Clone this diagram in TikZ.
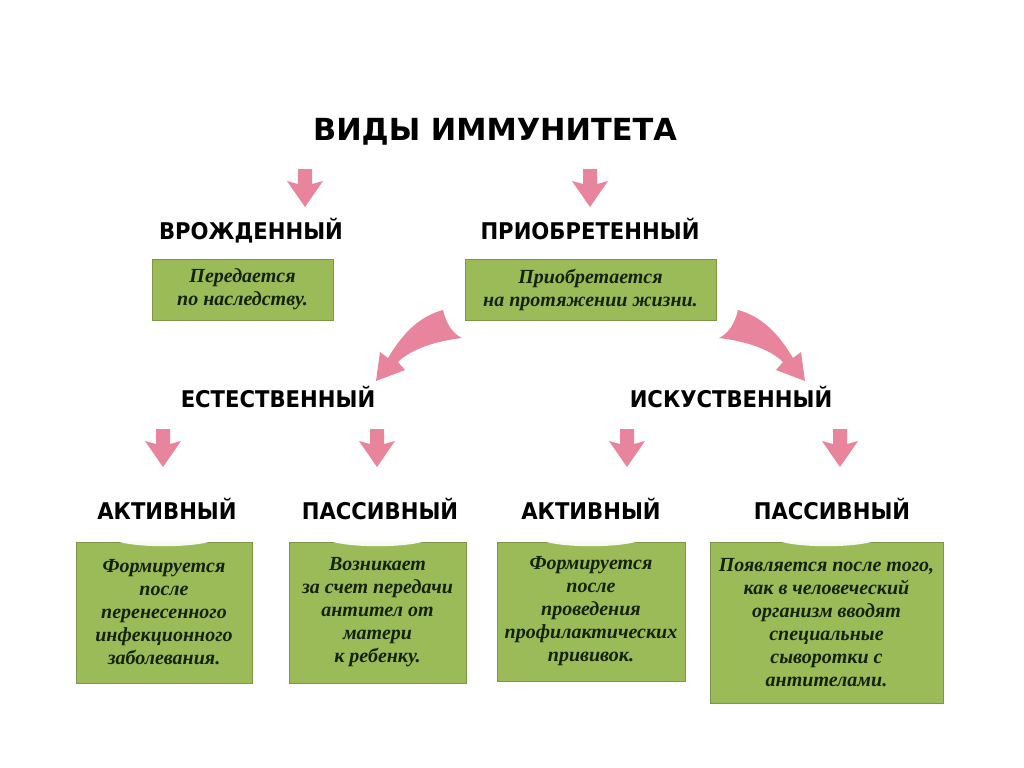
\documentclass[tikz,border=0pt]{standalone}
\usepackage{fontspec}
\setmainfont{Liberation Serif}
\newfontfamily\headfont{DejaVu Sans}
\newfontfamily\labelfont[FakeStretch=0.92]{DejaVu Sans}
\usetikzlibrary{calc,positioning}
\definecolor{im-green}{HTML}{9BBB59}
\definecolor{im-pink}{HTML}{E8849C}
\definecolor{im-text}{HTML}{14220A}
\begin{document}
\begin{tikzpicture}[
    x=0.5pt, y=-0.5pt,
    font=\normalsize
  ]

  % styles
  \tikzset{
    heading/.style={anchor=base, inner sep=0pt, text=black, font=\labelfont\bfseries\fontsize{11.5}{13}\selectfont},
    title/.style={heading, font=\headfont\bfseries\fontsize{15.2}{17}\selectfont},
    infobox/.style={fill=im-green, draw=im-green!80!black, line width=0.3pt, align=center, inner sep=2pt, text=im-text, font=\bfseries\itshape\fontsize{10}{11.5}\selectfont},
    downarrow/.pic={\fill[im-pink] (0,0) -- (-18,-26) -- (-7,-23) -- (-7,-38) -- (7,-38) -- (7,-23) -- (18,-26) -- cycle;},
    bentarrow/.pic={\fill[im-pink] (0,0) -- (4,-29) -- (12,-23) .. controls (28,-50) and (45,-65) .. (67,-71)
        .. controls (70,-58) and (76,-48) .. (86,-43) .. controls (60,-40) and (35,-32) .. (22,-19) -- (29,-11) -- cycle;}
  }

  \useasboundingbox (0,0) rectangle (1024,767);

  % headings
  \node (title)      [title]   at (495,140) {ВИДЫ ИММУНИТЕТА};
  \node (innate)     [heading] at (251,239) {ВРОЖДЕННЫЙ};
  \node (acquired)   [heading] at (590,239) {ПРИОБРЕТЕННЫЙ};
  \node (natural)    [heading] at (278,407) {ЕСТЕСТВЕННЫЙ};
  \node (artificial) [heading] at (731,407) {ИСКУСТВЕННЫЙ};
  \node (natact)     [heading] at (167,519) {АКТИВНЫЙ};
  \node (natpas)     [heading] at (380,519) {ПАССИВНЫЙ};
  \node (artact)     [heading] at (591,519) {АКТИВНЫЙ};
  \node (artpas)     [heading] at (832,519) {ПАССИВНЫЙ};

  % green boxes
  \node (innatebox)   [infobox, minimum width=90.5pt, minimum height=30.5pt]  at (242.5,289.5) {Передается\\по наследству.};
  \node (acquiredbox) [infobox, minimum width=125.5pt, minimum height=30.5pt] at (590.5,289.5) {Приобретается\\на протяжении жизни.};
  \node (natactbox)   [infobox, minimum width=88pt, minimum height=70.5pt]    at (164,612.5) {Формируется\\после\\перенесенного\\инфекционного\\заболевания.};
  \node (natpasbox)   [infobox, minimum width=88.5pt, minimum height=70.5pt]  at (377.5,612.5) {Возникает\\за счет передачи\\антител от\\матери\\к ребенку.};
  \node (artactbox)   [infobox, minimum width=94pt, minimum height=69.5pt]    at (591,611.5) {Формируется\\после\\проведения\\профилактических\\прививок.};
  \node (artpasbox)   [infobox, minimum width=116.5pt, minimum height=80.5pt] at (826.5,622.5) {Появляется после того,\\как в человеческий\\организм вводят\\специальные\\сыворотки с\\антителами.};

  % light tab on the lower boxes
  \foreach \b in {natactbox,natpasbox,artactbox,artpasbox}
    \fill[white!92!im-green] ($(\b.north)+(-46,0)$) .. controls ($(\b.north)+(-24,6)$) and ($(\b.north)+(24,6)$) .. ($(\b.north)+(46,0)$) -- cycle;

  % arrows
  \pic at (305,207) {downarrow};
  \pic at (590,207) {downarrow};
  \pic at (376,381) {bentarrow};
  \pic[xscale=-1] at (805,381) {bentarrow};
  \foreach \x in {163,377,627,840}
    \pic at (\x,467) {downarrow};

\end{tikzpicture}
\end{document}
